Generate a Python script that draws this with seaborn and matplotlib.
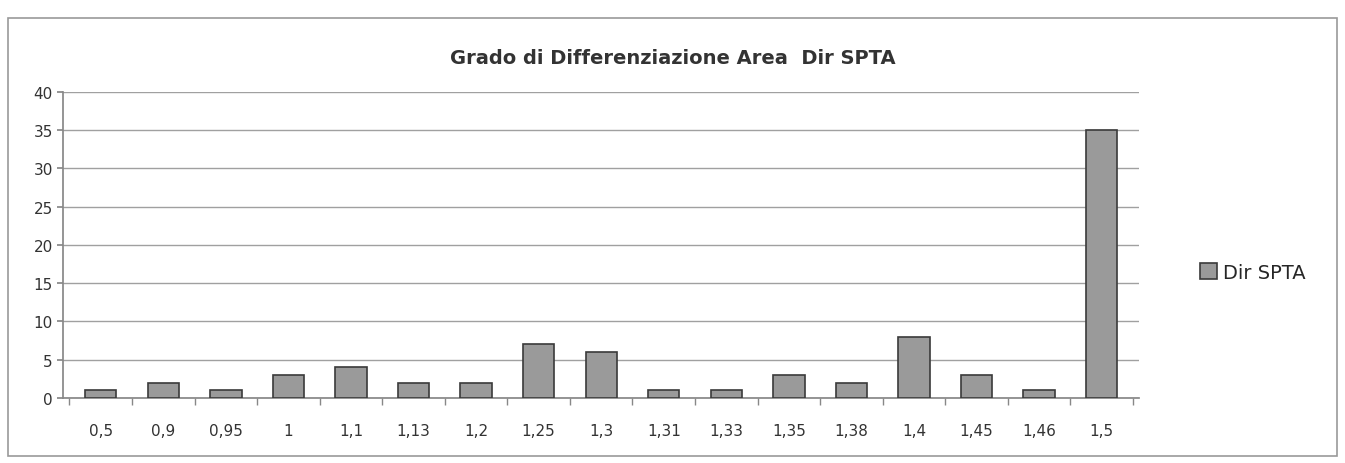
import matplotlib
matplotlib.use("Agg")
import matplotlib.pyplot as plt
import seaborn as sns
import pandas as pd
import numpy as np
from matplotlib.patches import Rectangle

categories = ["0,5", "0,9", "0,95", "1", "1,1", "1,13", "1,2", "1,25", "1,3",
              "1,31", "1,33", "1,35", "1,38", "1,4", "1,45", "1,46", "1,5"]
values = [1, 2, 1, 3, 4, 2, 2, 7, 6, 1, 1, 3, 2, 8, 3, 1, 35]
series_name = "Dir SPTA"
title = "Grado di Differenziazione Area  Dir SPTA"
y_ticks = [0, 5, 10, 15, 20, 25, 30, 35, 40]

df = pd.DataFrame({"cat": categories, "val": values, "series": series_name})

sns.set_theme(style="white")
plt.rcParams["font.family"] = ["DejaVu Sans"]

fig = plt.figure(figsize=(13.45, 4.64), dpi=100)
ax = fig.add_axes([0.047, 0.14, 0.80, 0.66])

sns.barplot(data=df, x="cat", y="val", hue="series", order=categories,
            palette=["#9a9a9a"], width=0.5, edgecolor="#3a3a3a", linewidth=1.2,
            ax=ax, zorder=3)

ax.set_ylim(0, 40)
ax.set_yticks(y_ticks)
ax.set_yticklabels([str(t) for t in y_ticks], fontsize=11, color="#333333")
ax.set_xlim(-0.6, len(categories) - 0.4)
ax.set_xticks(np.arange(len(categories) + 1) - 0.5, minor=True)
ax.tick_params(axis="x", which="major", labelsize=11, colors="#333333", pad=18, length=0)
ax.tick_params(axis="x", which="minor", length=5, color="#888888", bottom=True)
ax.tick_params(axis="y", length=4, left=True, color="#888888")
ax.set_xlabel("")
ax.set_ylabel("")
ax.yaxis.grid(True, color="#a0a0a0", linewidth=1.0, zorder=0)
for s in ["top", "right"]:
    ax.spines[s].set_visible(False)
ax.spines["left"].set_color("#888888")
ax.spines["bottom"].set_color("#888888")

leg = ax.legend(loc="center left", bbox_to_anchor=(1.04, 0.41), frameon=False,
                fontsize=14, handlelength=0.9, handleheight=0.9, handletextpad=0.3)

fig.text(0.5, 0.875, title, ha="center", va="center", fontsize=14,
         fontweight="bold", color="#333333")

fig.patches.append(Rectangle((0.006, 0.015), 0.988, 0.945, transform=fig.transFigure,
                             fill=False, edgecolor="#999999", linewidth=1.2))

fig.savefig("out.png", dpi=100)
